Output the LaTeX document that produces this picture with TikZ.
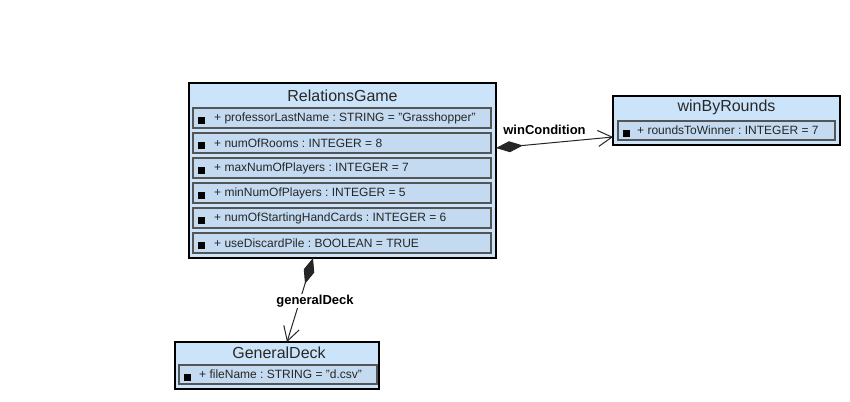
\documentclass[tikz,border=0pt]{standalone}
\usepackage{fontspec}
\setmainfont{Liberation Sans}
\usetikzlibrary{arrows.meta}
\definecolor{boxfill}{RGB}{204,228,250}
\definecolor{rowfill}{RGB}{196,218,240}
\definecolor{rowline}{RGB}{85,85,85}
\definecolor{titlecol}{RGB}{40,40,40}
\frenchspacing
\tikzset{
  classbox/.style={draw=black, fill=boxfill, line width=2pt, inner sep=0pt, outer sep=0pt},
  rowbox/.style={draw=rowline, fill=rowfill, line width=1.4pt, inner sep=0pt, outer sep=0pt},
  bullet/.style={fill=black, draw=none, minimum size=7pt, inner sep=0pt, outer sep=0pt},
  classtitle/.style={inner sep=0pt, text=titlecol, font=\fontsize{16}{18}\selectfont},
  attr/.style={inner sep=0pt, anchor=west, text=black!85, font=\fontsize{12}{14}\selectfont},
  rolelabel/.style={inner sep=1pt, font=\bfseries\fontsize{13}{15}\selectfont},
  conn/.style={draw=black!85, line width=1pt},
  comp/.style={conn, {Diamond[length=27pt,width=11pt]}-{Straight Barb[length=14pt,width=16pt,line width=1pt]}}
}
\begin{document}
\begin{tikzpicture}[x=1pt,y=-1pt]
\useasboundingbox[fill=white] (0,0) rectangle (850,401);

% RelationsGame
\node[classbox, minimum width=307pt, minimum height=175pt] (rg) at (342.5,170.5) {};
\node[classtitle] (rgt) at (342.5,96) {RelationsGame};
\foreach \i/\t in {1/{+ professorLastName : STRING = "Grasshopper"},
                   2/{+ numOfRooms : INTEGER = 8},
                   3/{+ maxNumOfPlayers : INTEGER = 7},
                   4/{+ minNumOfPlayers : INTEGER = 5},
                   5/{+ numOfStartingHandCards : INTEGER = 6},
                   6/{+ useDiscardPile : BOOLEAN = TRUE}}{
  \pgfmathsetmacro{\yy}{93+25*\i}
  \node[rowbox, minimum width=298pt, minimum height=20pt] (rgr\i) at (342,\yy) {};
  \node[bullet] (rgb\i) at (201,\yy+2.5) {};
  \node[attr] (rga\i) at (214,\yy) {\t};
}

% winByRounds
\node[classbox, minimum width=227pt, minimum height=49pt] (wbr) at (726.5,120.5) {};
\node[classtitle] (wbrt) at (726.5,107) {winByRounds};
\node[rowbox, minimum width=217pt, minimum height=19pt] (wbrr) at (726.5,130.5) {};
\node[bullet] (wbrb) at (626,133) {};
\node[attr] (wbra) at (637,130.5) {+ roundsToWinner : INTEGER = 7};

% GeneralDeck
\node[classbox, minimum width=204pt, minimum height=47pt] (gd) at (277,365.5) {};
\node[classtitle] (gdt) at (279,352.5) {GeneralDeck};
\node[rowbox, minimum width=198pt, minimum height=19pt] (gdr) at (278,374.5) {};
\node[bullet] (gdb) at (187.5,377) {};
\node[attr] (gda) at (199,374.5) {+ fileName : STRING = "d.csv"};

% connectors
\draw[comp] ([yshift=22.5pt]rg.east) -- ([yshift=-16.5pt]wbr.west);
\node[rolelabel] (wcl) at (544.5,130) {winCondition};

\draw[comp] ([xshift=-29.5pt]rg.south) -- ([xshift=10pt]gd.north);
\node[rolelabel, fill=white] (gdl) at (315,301) {generalDeck};
\end{tikzpicture}
\end{document}
